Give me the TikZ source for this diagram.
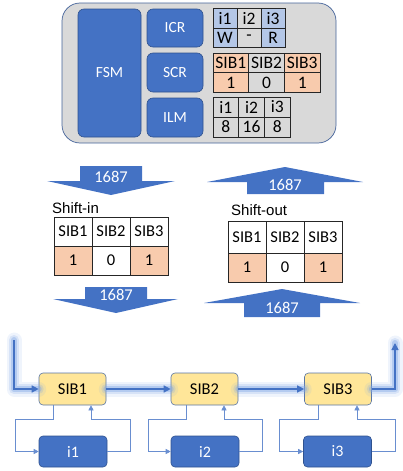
\documentclass[tikz,border=0pt]{standalone}
\usepackage{fontspec}
\setmainfont{Carlito}
\newfontfamily\arialf{Liberation Sans}
\usetikzlibrary{arrows.meta}
\definecolor{bblue}{HTML}{4472C4}
\definecolor{bdark}{HTML}{2F528F}
\definecolor{lblue}{HTML}{B4C7E7}
\definecolor{lgray}{HTML}{D9D9D9}
\definecolor{lorange}{HTML}{F8CBAD}
\definecolor{lyellow}{HTML}{FFE699}
\definecolor{glowc}{HTML}{7FA6E6}
\tikzset{
  bluebox/.style={draw=bdark, line width=0.6pt, fill=bblue, rounded corners=6pt, text=white, inner sep=0pt, font=\fontsize{15.5}{18}\selectfont},
  cell/.style={draw=black!85, line width=0.8pt, inner sep=0pt, font=\fontsize{17.5}{18}\selectfont},
  bigcell/.style={draw=black!85, line width=0.8pt, inner sep=0pt, minimum width=38pt, font=\fontsize{16.5}{18}\selectfont},
  blockarrow/.style={fill=bblue, draw=none},
  arrowtext/.style={text=white, inner sep=0pt, font=\fontsize{16.5}{18}\selectfont},
  sibbox/.style={draw=bdark!80, line width=0.6pt, fill=lyellow, rounded corners=4pt, minimum width=67pt, minimum height=32pt, inner sep=0pt, font=\fontsize{16.5}{18}\selectfont},
  ibox/.style={draw=bdark, line width=0.6pt, fill=bblue, rounded corners=4pt, minimum width=68pt, minimum height=31pt, inner sep=0pt, text=white, font=\fontsize{16}{18}\selectfont},
  fb/.style={draw=bblue!80, line width=0.6pt, -{Triangle[length=5pt,width=5pt]}},
  glow1/.style={draw=glowc, line width=15pt, opacity=0.12, line cap=round, line join=round},
  glow2/.style={draw=glowc, line width=10pt, opacity=0.22, line cap=round, line join=round},
  glow3/.style={draw=glowc, line width=6pt, opacity=0.4, line cap=round, line join=round},
  mainarr/.style={draw=bblue, line width=1.4pt, -{Triangle[length=7pt,width=7pt]}},
  lbl/.style={anchor=west, inner sep=0pt, font=\arialf\fontsize{15}{17}\selectfont}
}
\begin{document}
\begin{tikzpicture}[x=1pt,y=-1pt]
\useasboundingbox (0,0) rectangle (403,471);
% top container
\draw[draw=bdark!90, line width=0.7pt, fill=lgray, rounded corners=18pt] (62,3) rectangle (336,143);
\node[bluebox, minimum width=63pt, minimum height=128pt] (fsm) at (109.5,73) {FSM};
\node[bluebox, minimum width=56pt, minimum height=38pt] (icr) at (175,28) {ICR};
\node[bluebox, minimum width=56pt, minimum height=39pt] (scr) at (175,72.5) {SCR};
\node[bluebox, minimum width=56pt, minimum height=39pt] (ilm) at (175,117.5) {ILM};
% ICR table
\foreach \c/\x/\t/\b/\f in {1/225/i1/W/lblue, 2/249/i2/-/lgray, 3/273/i3/R/lblue}{
  \node[cell, fill=\f, minimum width=24pt, minimum height=19.5pt] (icrh\c) at (\x,18.5) {\t};
  \node[cell, fill=\f, minimum width=24pt, minimum height=19.5pt] (icrv\c) at (\x,38) {\b};
}
% SCR table
\foreach \c/\x/\b/\f in {1/230.8/1/lorange, 2/266.5/0/lgray, 3/302.2/1/lorange}{
  \node[cell, fill=\f, minimum width=35.7pt, minimum height=19.5pt] (scrh\c) at (\x,63) {SIB\c};
  \node[cell, fill=\f, minimum width=35.7pt, minimum height=19.5pt] (scrv\c) at (\x,82.5) {\b};
}
% ILM table
\foreach \c/\x/\b in {1/225.8/8, 2/251.5/16, 3/277.2/8}{
  \node[cell, fill=lgray, minimum width=25.7pt, minimum height=20pt] (ilmh\c) at (\x,107) {i\c};
  \node[cell, fill=lgray, minimum width=25.7pt, minimum height=20pt] (ilmv\c) at (\x,127) {\b};
}
% block arrows
\fill[blockarrow] (80,166) -- (142,166) -- (142,181) -- (175,181) -- (111,195) -- (47,181) -- (80,181) -- cycle;
\node[arrowtext] (a1) at (111,177) {1687};
\fill[blockarrow] (85,287) -- (147,287) -- (147,299) -- (178,299) -- (116,313) -- (53,299) -- (85,299) -- cycle;
\node[arrowtext] (a2) at (116,295) {1687};
\fill[blockarrow] (285,167) -- (363,182) -- (324,182) -- (324,194) -- (247,194) -- (247,182) -- (207,182) -- cycle;
\node[arrowtext] (a3) at (285,185) {1687};
\fill[blockarrow] (282,289) -- (360,303) -- (320,303) -- (320,317) -- (244,317) -- (244,303) -- (204,303) -- cycle;
\node[arrowtext] (a4) at (282,308) {1687};
% shift-in
\node[lbl] (shin) at (52,208) {Shift-in};
\foreach \c/\x/\b/\f in {1/73/1/lorange, 2/111/0/white, 3/149/1/lorange}{
  \node[bigcell, fill=white, minimum height=29pt] (sih\c) at (\x,231.5) {SIB\c};
  \node[bigcell, fill=\f, minimum height=29pt] (siv\c) at (\x,260.5) {\b};
}
% shift-out
\node[lbl] (shout) at (231,210) {Shift-out};
\foreach \c/\x/\b/\f in {1/247/1/lorange, 2/285/0/white, 3/323/1/lorange}{
  \node[bigcell, fill=white, minimum height=32pt] (soh\c) at (\x,237) {SIB\c};
  \node[bigcell, fill=\f, minimum height=29pt] (sov\c) at (\x,267.5) {\b};
}
% bottom chain
\node[sibbox] (s1) at (72.5,389) {SIB1};
\node[sibbox] (s2) at (204.5,389) {SIB2};
\node[sibbox] (s3) at (338,389) {SIB3};
\node[ibox] (i1) at (73,451.5) {i1};
\node[ibox] (i2) at (205,451.5) {i2};
\node[ibox] (i3) at (337.5,451.5) {i3};
\coordinate (start) at (14,340);
\coordinate (end) at (395,343);
% glow
\foreach \g in {glow1,glow2,glow3}{
  \draw[\g] (start) |- (s1.west);
  \draw[\g] (s1.east) -- (s2.west);
  \draw[\g] (s2.east) -- (s3.west);
  \draw[\g] (s3.east) -| (end);
}
\draw[mainarr] (start) |- (s1.west);
\draw[mainarr] (s1.east) -- (s2.west);
\draw[mainarr] (s2.east) -- (s3.west);
\draw[mainarr] (s3.east) -| (end);
% feedback loops
\draw[fb] ([xshift=-19.5pt]s1.south) |- (15,419) |- (i1.west);
\draw[fb] (i1.east) -| (130,419) -| ([xshift=18.5pt]s1.south);
\draw[fb] ([xshift=-18.5pt]s2.south) |- (148,419) |- (i2.west);
\draw[fb] (i2.east) -| (262,419) -| ([xshift=19.5pt]s2.south);
\draw[fb] ([xshift=-20pt]s3.south) |- (279,419) |- (i3.west);
\draw[fb] (i3.east) -| (395,419) -| ([xshift=19pt]s3.south);
\end{tikzpicture}
\end{document}
